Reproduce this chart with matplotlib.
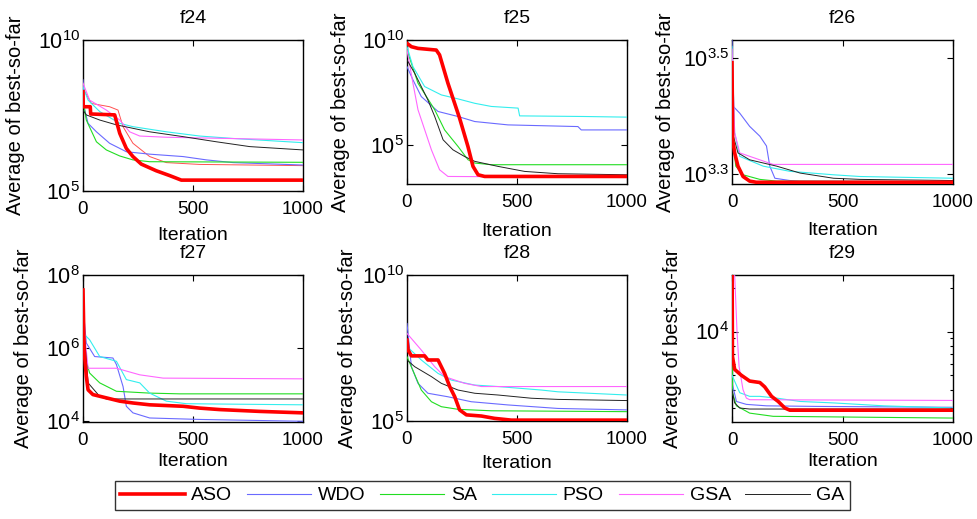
import numpy as np
import matplotlib.pyplot as plt
from matplotlib.ticker import NullLocator, NullFormatter, LogLocator

plt.rcParams['font.family'] = ['Liberation Sans', 'DejaVu Sans']
plt.rcParams['mathtext.fontset'] = 'custom'
plt.rcParams['mathtext.rm'] = 'Liberation Sans'
plt.rcParams['mathtext.it'] = 'Liberation Sans:italic'

# (iteration, log10 of average best-so-far)
algos = ['ASO', 'WDO', 'SA', 'PSO', 'GSA', 'GA']

f24_aso = [(0, 8.29), (1, 7.79), (33, 7.79), (35, 7.55), (144, 7.52), (167, 6.91), (197, 6.41),
           (227, 6.14), (265, 5.89), (333, 5.67), (394, 5.51), (447, 5.36), (1000, 5.36)]
f24_wdo = [(0, 8.68), (8, 7.68), (23, 7.24), (61, 6.96), (121, 6.58), (197, 6.30), (303, 6.22),
           (455, 6.14), (561, 6.03), (682, 5.94), (1000, 5.86)]
f24_sa = [(0, 8.01), (15, 7.35), (61, 6.63), (106, 6.36), (167, 6.16), (227, 6.03), (303, 5.97),
          (1000, 5.95)]
f24_pso = [(0, 8.45), (23, 8.01), (76, 7.63), (167, 7.24), (227, 7.13), (379, 6.96), (530, 6.82),
           (682, 6.74), (1000, 6.60)]
f24_gsa = [(0, 8.57), (30, 8.01), (106, 7.68), (167, 7.35), (212, 6.96), (258, 6.82), (379, 6.78),
           (1000, 6.69)]
f24_ga = [(0, 7.68), (15, 7.52), (76, 7.35), (152, 7.19), (303, 6.96), (455, 6.80), (606, 6.63),
          (758, 6.47), (1000, 6.36)]
f24_extra = [(0, 8.40), (38, 7.90), (121, 7.79), (159, 7.68), (182, 7.13), (227, 6.58), (303, 6.14),
             (379, 5.94), (530, 5.88), (1000, 5.84)]

f25_aso = [(0, 9.84), (20, 9.68), (50, 9.60), (133, 9.52), (148, 9.29), (186, 7.94), (239, 6.27),
           (277, 4.92), (300, 3.97), (323, 3.57), (353, 3.49), (1000, 3.49)]
f25_wdo = [(0, 8.73), (27, 8.10), (65, 7.30), (141, 6.59), (232, 6.35), (308, 6.11), (459, 5.95),
           (777, 5.87), (792, 5.71), (1000, 5.71)]
f25_sa = [(0, 9.52), (50, 7.94), (126, 6.67), (171, 5.71), (232, 4.92), (277, 4.29), (308, 4.13),
          (383, 4.05), (1000, 4.05)]
f25_pso = [(0, 9.68), (27, 8.73), (80, 7.78), (156, 7.38), (232, 7.19), (308, 6.98), (383, 6.83),
           (505, 6.75), (512, 6.38), (808, 6.35), (1000, 6.32)]
f25_gsa = [(0, 9.52), (27, 7.94), (50, 6.67), (111, 4.76), (148, 3.81), (186, 3.49), (1000, 3.44)]
f25_ga = [(0, 9.05), (35, 8.41), (95, 7.14), (126, 6.35), (164, 5.24), (209, 4.76), (262, 4.44),
          (308, 4.21), (414, 3.97), (535, 3.73), (686, 3.62), (1000, 3.57)]

f26_aso = [(0, 3.4925), (3, 3.359), (12, 3.336), (27, 3.313), (50, 3.295), (80, 3.287), (110, 3.285),
           (1000, 3.285)]
f26_wdo = [(0, 3.533), (5, 3.417), (35, 3.405), (80, 3.382), (126, 3.365), (156, 3.348), (171, 3.313),
           (194, 3.292), (262, 3.288), (308, 3.287), (1000, 3.286)]
f26_sa = [(0, 3.374), (17, 3.313), (50, 3.298), (126, 3.290), (202, 3.287), (1000, 3.286)]
f26_pso = [(0, 3.521), (12, 3.371), (35, 3.330), (141, 3.313), (262, 3.304), (459, 3.298),
           (580, 3.295), (1000, 3.292)]
f26_gsa = [(0, 3.516), (12, 3.371), (35, 3.336), (186, 3.316), (1000, 3.316)]
f26_ga = [(0, 3.374), (27, 3.336), (80, 3.324), (202, 3.313), (308, 3.301), (459, 3.292),
          (580, 3.290), (1000, 3.288)]

f27_aso = [(0, 7.59), (5, 5.95), (15, 5.23), (23, 4.86), (45, 4.73), (106, 4.64), (167, 4.55),
           (227, 4.50), (303, 4.45), (455, 4.41), (530, 4.36), (621, 4.32), (803, 4.27), (1000, 4.23)]
f27_wdo = [(0, 7.14), (15, 6.14), (53, 5.77), (136, 5.73), (152, 5.55), (182, 4.95), (197, 4.41),
           (227, 4.23), (303, 4.09), (530, 4.05), (1000, 4.00)]
f27_sa = [(0, 5.95), (30, 5.32), (76, 5.05), (152, 4.82), (303, 4.77), (439, 4.75), (1000, 4.75)]
f27_pso = [(0, 6.41), (30, 6.23), (76, 5.77), (152, 5.64), (197, 5.14), (258, 5.05), (303, 4.77),
           (379, 4.55), (470, 4.48), (1000, 4.45)]
f27_gsa = [(0, 6.86), (23, 5.45), (152, 5.45), (258, 5.27), (364, 5.18), (1000, 5.16)]
f27_ga = [(0, 6.86), (23, 5.05), (76, 4.68), (106, 4.61), (1000, 4.61)]

f28_aso = [(0, 7.77), (5, 7.43), (20, 7.23), (80, 7.23), (95, 7.09), (141, 7.09), (171, 6.63),
           (194, 6.18), (217, 5.83), (239, 5.38), (270, 5.21), (338, 5.17), (398, 5.09), (474, 5.03),
           (1000, 5.03)]
f28_wdo = [(0, 8.34), (20, 6.86), (50, 6.29), (95, 5.95), (186, 5.83), (292, 5.66), (459, 5.55),
           (686, 5.43), (1000, 5.38)]
f28_sa = [(0, 7.20), (65, 6.06), (111, 5.66), (156, 5.49), (232, 5.40), (383, 5.35), (1000, 5.32)]
f28_pso = [(0, 7.55), (65, 7.09), (141, 6.63), (202, 6.40), (308, 6.23), (414, 6.18), (611, 6.06),
           (686, 6.00), (1000, 5.89)]
f28_gsa = [(0, 8.00), (65, 7.43), (126, 6.86), (171, 6.52), (262, 6.29), (338, 6.18), (1000, 6.18)]
f28_ga = [(0, 7.09), (35, 6.86), (111, 6.52), (156, 6.29), (232, 6.06), (308, 5.95), (414, 5.89),
          (565, 5.78), (686, 5.74), (1000, 5.70)]

f29_aso = [(0, 4.60), (2, 3.83), (12, 3.74), (42, 3.70), (80, 3.66), (126, 3.65), (148, 3.62),
           (179, 3.555), (209, 3.52), (239, 3.475), (262, 3.46), (1000, 3.46)]
f29_wdo = [(0, 3.65), (20, 3.52), (65, 3.50), (156, 3.49), (383, 3.486), (1000, 3.48)]
f29_sa = [(0, 4.50), (2, 3.58), (20, 3.49), (80, 3.44), (186, 3.418), (1000, 3.406)]
f29_pso = [(0, 3.70), (35, 3.58), (80, 3.555), (126, 3.555), (202, 3.543), (308, 3.52), (459, 3.51),
           (686, 3.49), (1000, 3.475)]
f29_gsa = [(0, 4.60), (12, 4.39), (23, 3.99), (32, 3.76), (50, 3.60), (65, 3.543), (80, 3.532),
           (1000, 3.527)]
f29_ga = [(0, 3.60), (12, 3.51), (35, 3.475), (80, 3.468), (1000, 3.468)]

titles = ['f24', 'f25', 'f26', 'f27', 'f28', 'f29']
ylims = [(5, 10), (3.13, 10), (3.282, 3.532), (3.98, 8), (5, 10), (3.379, 4.388)]
yticks = [[5, 10], [5, 10], [3.3, 3.5], [4, 6, 8], [5, 10], [4]]
ytick_labels = [['$10^{5}$', '$10^{10}$'], ['$10^{5}$', '$10^{10}$'], ['$10^{3.3}$', '$10^{3.5}$'],
                ['$10^{4}$', '$10^{6}$', '$10^{8}$'], ['$10^{5}$', '$10^{10}$'], ['$10^{4}$']]

curves = [
    [f24_aso, f24_wdo, f24_sa, f24_pso, f24_gsa, f24_ga],
    [f25_aso, f25_wdo, f25_sa, f25_pso, f25_gsa, f25_ga],
    [f26_aso, f26_wdo, f26_sa, f26_pso, f26_gsa, f26_ga],
    [f27_aso, f27_wdo, f27_sa, f27_pso, f27_gsa, f27_ga],
    [f28_aso, f28_wdo, f28_sa, f28_pso, f28_gsa, f28_ga],
    [f29_aso, f29_wdo, f29_sa, f29_pso, f29_gsa, f29_ga],
]

styles = {
    'ASO': dict(color='#ff0000', lw=2.6, ls='-', zorder=5),
    'WDO': dict(color='#6a6aff', lw=0.8, ls='-', zorder=3),
    'SA': dict(color='#22dd22', lw=0.8, ls='-', zorder=3),
    'PSO': dict(color='#33eeee', lw=0.8, ls='-', zorder=3),
    'GSA': dict(color='#ff66ff', lw=0.8, ls='-', zorder=3),
    'GA': dict(color='#222222', lw=0.7, ls='-', zorder=3),
}

W, H = 977, 519
fig = plt.figure(figsize=(W / 100, H / 100), dpi=100)

# axes boxes in pixels: left, top, right, bottom
boxes = [(83, 40, 303, 191), (407, 40, 627, 184), (732, 40, 953, 184),
         (83, 275, 303, 422), (407, 275, 627, 421), (732, 275, 953, 422)]
xlab_y = [-0.238, -0.27, -0.264, -0.21, -0.233, -0.21]
ylab_x = [-0.264, -0.259, -0.258, -0.227, -0.227, -0.226]

handles = {}
for i, (l, t, r, b) in enumerate(boxes):
    ax = fig.add_axes([l / W, 1 - b / H, (r - l) / W, (b - t) / H])
    for name, pts in zip(algos[1:] + algos[:1], curves[i][1:] + curves[i][:1]):
        it = np.array([p[0] for p in pts])
        val = 10 ** np.array([p[1] for p in pts])
        ln, = ax.semilogy(it, val, **styles[name])
        handles[name] = ln
    if i == 0:
        it = np.array([p[0] for p in f24_extra])
        val = 10 ** np.array([p[1] for p in f24_extra])
        ax.semilogy(it, val, color='#ff5050', lw=0.7, zorder=2)
    ax.set_xlim(0, 1000)
    ax.set_ylim(10 ** ylims[i][0], 10 ** ylims[i][1])
    ax.set_xticks([0, 500, 1000])
    ax.set_yticks([10 ** v for v in yticks[i]])
    ax.set_yticklabels(ytick_labels[i])
    if i == 5:
        ax.yaxis.set_minor_locator(LogLocator(base=10, subs=np.arange(2, 10)))
    else:
        ax.yaxis.set_minor_locator(NullLocator())
    ax.yaxis.set_minor_formatter(NullFormatter())
    ax.tick_params(which='both', direction='in', top=True, right=True, length=4, width=0.8,
                   colors='black')
    ax.tick_params(which='minor', length=2.5)
    ax.tick_params(axis='x', labelsize=13.5, pad=7)
    ax.tick_params(axis='y', labelsize=15.5, pad=2)
    for s in ax.spines.values():
        s.set_linewidth(1.0)
    ax.set_title(titles[i], fontsize=14, pad=12)
    ax.set_xlabel('Iteration', fontsize=14)
    ax.set_ylabel('Average of best-so-far', fontsize=14.5)
    ax.xaxis.set_label_coords(0.5, xlab_y[i])
    ax.yaxis.set_label_coords(ylab_x[i], 0.5)

leg = fig.legend([handles[a] for a in algos], algos, loc='center', ncol=6,
                 bbox_to_anchor=(482.5 / W, 1 - 495.5 / H), fontsize=14,
                 handlelength=3.3, handletextpad=0.35, columnspacing=0.75,
                 frameon=True, fancybox=False, borderpad=0.3)
leg.get_frame().set_edgecolor('black')
leg.get_frame().set_linewidth(1.0)

fig.savefig('out.png', dpi=100)
